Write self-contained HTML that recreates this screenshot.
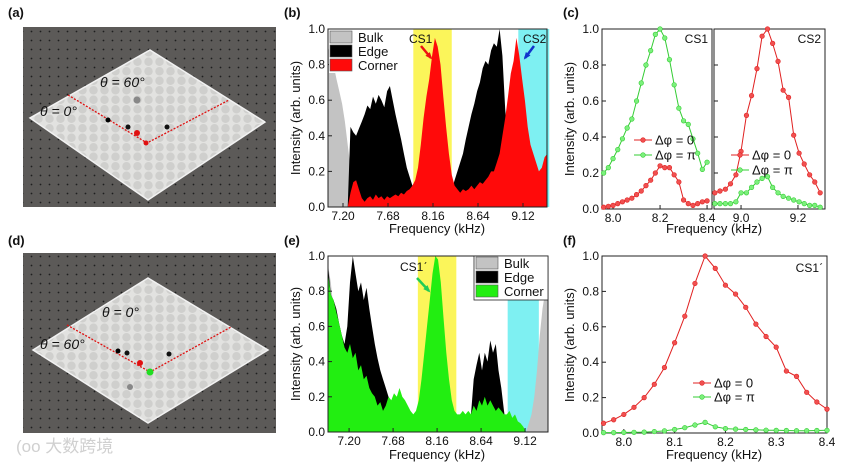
<!DOCTYPE html>
<html><head><meta charset="utf-8"><style>
html,body{margin:0;padding:0;background:#fff;}
svg{display:block;font-family:"Liberation Sans","Noto Sans CJK SC",sans-serif;}
</style></head><body>
<svg id="fig" width="864" height="463" viewBox="0 0 864 463" xmlns="http://www.w3.org/2000/svg">
<defs>
<pattern id="holes" width="9" height="9" patternUnits="userSpaceOnUse"><rect width="9" height="9" fill="#5c5a58"/><circle cx="4.5" cy="4.5" r="0.9" fill="#1e1e1e"/></pattern>
<pattern id="cells" width="11" height="9.5" patternUnits="userSpaceOnUse"><rect width="11" height="9.5" fill="#e2e2e0"/><circle cx="5.5" cy="4.75" r="4.2" fill="#cfcfcd"/></pattern>
<clipPath id="cpB"><rect x="328" y="29" width="219" height="178"/></clipPath>
<clipPath id="cpE"><rect x="328" y="256" width="220" height="176"/></clipPath>
</defs>
<g>
<rect x="23" y="27" width="253" height="180" fill="url(#holes)"/>
<polygon points="150,50 265,122 148,200 30,118" fill="url(#cells)" stroke="#f2f2f2" stroke-width="1.5"/>
<polyline points="68,95 147,143 229,100" fill="none" stroke="#e01010" stroke-width="1.3" stroke-dasharray="2,1.5"/>
<circle cx="137" cy="100" r="3.5" fill="#888"/><circle cx="108" cy="120" r="2.5" fill="#000"/>
<circle cx="128" cy="127" r="2.5" fill="#111"/><circle cx="167" cy="127" r="2.5" fill="#111"/>
<circle cx="137" cy="133" r="3" fill="#e01010"/><circle cx="146" cy="143" r="2.5" fill="#e01010"/>
<text x="100" y="87" font-size="14" font-style="italic" fill="#111">θ = 60°</text>
<text x="40" y="116" font-size="14" font-style="italic" fill="#111">θ = 0°</text>
</g>
<g>
<rect x="23" y="253" width="253" height="180" fill="url(#holes)"/>
<polygon points="148,278 268,350 148,423 33,350" fill="url(#cells)" stroke="#f2f2f2" stroke-width="1.5"/>
<polyline points="67,325 150,372 231,327" fill="none" stroke="#e01010" stroke-width="1.3" stroke-dasharray="2,1.5"/>
<circle cx="118" cy="351" r="2.5" fill="#000"/><circle cx="127" cy="353" r="2.5" fill="#111"/>
<circle cx="169" cy="354" r="2.5" fill="#111"/><circle cx="140" cy="363" r="3" fill="#e01010"/>
<circle cx="150" cy="372" r="3.5" fill="#22dd22"/><circle cx="130" cy="387" r="3" fill="#888"/>
<text x="102" y="317" font-size="14" font-style="italic" fill="#111">θ = 0°</text>
<text x="40" y="349" font-size="14" font-style="italic" fill="#111">θ = 60°</text>
</g>
<text x="16" y="452" font-size="17" fill="#d0d0d0">(oo 大数跨境</text>
<g font-size="13" font-weight="bold" fill="#111">
<text x="8" y="17">(a)</text>
<text x="284" y="17">(b)</text>
<text x="563" y="17">(c)</text>
<text x="8" y="245">(d)</text>
<text x="284" y="245">(e)</text>
<text x="563" y="245">(f)</text>
</g>
<g id="layer"></g>
</svg>
<script>
// ---- panel b data (freq = 7.04 + 0.03*i) ----
const bStart = 7.04, bStep = 0.03;
const bBulk = [0.9,0.85,0.8,0.72,0.65,0.58,0.48,0.35,0.22,0.1,0.03,0,0,0,0,0,0,0,0,0,0,0,0,0,0,0,0,0,0,0,0,0,0,0,0,0,0,0,0,0,0,0,0,0,0,0,0,0,0,0,0,0,0,0,0,0,0,0,0,0,0,0,0,0,0,0,0,0,0,0,0,0,0,0,0,0.03,0.08,0.15,0.22];
const bEdge = [0,0,0,0,0,0,0,0,0.45,0.42,0.4,0.44,0.48,0.52,0.57,0.55,0.62,0.58,0.63,0.6,0.56,0.65,0.68,0.6,0.52,0.45,0.38,0.3,0.22,0.17,0.12,0.1,0.08,0.08,0.08,0.08,0.08,0.08,0.08,0.08,0.08,0.08,0.08,0.08,0.1,0.15,0.2,0.25,0.3,0.38,0.45,0.52,0.58,0.65,0.7,0.78,0.82,0.8,0.88,0.92,0.9,1.0,0.85,0.55,0.35,0.25,0.2,0.15,0.1,0,0,0,0,0,0,0,0,0,0];
const bCorner = [0,0,0,0,0,0,0,0,0.08,0.14,0.15,0.1,0.05,0.03,0.05,0.06,0.04,0.07,0.05,0.06,0.04,0.06,0.05,0.06,0.07,0.06,0.08,0.07,0.09,0.1,0.12,0.15,0.22,0.35,0.5,0.62,0.72,0.85,0.95,0.9,0.8,0.62,0.45,0.3,0.18,0.12,0.1,0.08,0.1,0.09,0.1,0.12,0.1,0.12,0.14,0.13,0.15,0.17,0.2,0.2,0.25,0.3,0.4,0.5,0.62,0.75,0.82,0.95,0.85,0.72,0.6,0.45,0.35,0.3,0.25,0.2,0.22,0.28,0.3];
// ---- panel e data (freq = 6.97 + 0.03*i) ----
const eStart = 6.97, eStep = 0.03;
const eBulk = [0.95,0.85,0.7,0.55,0.4,0.28,0.18,0.1,0.04,0,0,0,0,0,0,0,0,0,0,0,0,0,0,0,0,0,0,0,0,0,0,0,0,0,0,0,0,0,0,0,0,0,0,0,0,0,0,0,0,0,0,0,0,0,0,0,0,0,0,0,0,0,0,0,0,0,0,0,0,0,0,0,0,0.05,0.1,0.2,0.35,0.55,0.7,0.8,0.85];
const eEdge = [0.95,0.78,0.75,0.7,0.62,0.55,0.5,0.6,0.85,1.0,0.9,0.8,0.85,0.75,0.82,0.7,0.6,0.5,0.42,0.35,0.3,0.25,0.2,0.15,0.13,0,0,0,0,0,0,0,0,0,0,0,0,0,0,0,0,0,0,0,0,0,0,0,0,0,0,0,0.1,0.3,0.38,0.45,0.35,0.45,0.4,0.52,0.45,0.5,0.35,0.25,0.12,0,0,0,0,0,0,0,0,0,0,0,0,0,0,0,0];
const eCorner = [0.9,0.78,0.75,0.68,0.62,0.55,0.48,0.45,0.5,0.42,0.45,0.35,0.38,0.3,0.32,0.25,0.22,0.2,0.15,0.17,0.12,0.15,0.2,0.18,0.22,0.2,0.25,0.2,0.18,0.15,0.12,0.1,0.12,0.18,0.3,0.45,0.6,0.75,0.9,1.0,0.98,0.85,0.65,0.45,0.3,0.18,0.12,0.1,0.1,0.12,0.1,0.12,0.1,0.15,0.12,0.18,0.15,0.2,0.15,0.18,0.15,0.12,0.14,0.12,0.1,0.1,0.12,0.08,0.1,0.06,0.05,0.03,0,0,0,0,0,0,0,0,0];
// ---- panel c data ----
const cs1Freq = [7.96,7.98,8.00,8.02,8.04,8.06,8.08,8.10,8.12,8.14,8.16,8.18,8.20,8.22,8.24,8.26,8.28,8.30,8.32,8.34,8.36,8.38,8.40];
const cs1Zero = [0.01,0.015,0.02,0.03,0.04,0.05,0.06,0.08,0.10,0.13,0.16,0.20,0.24,0.23,0.23,0.19,0.15,0.05,0.03,0.02,0.03,0.04,0.045];
const cs1Pi = [0.20,0.23,0.28,0.33,0.39,0.45,0.50,0.60,0.70,0.80,0.88,0.97,1.0,0.95,0.83,0.69,0.56,0.49,0.47,0.39,0.31,0.22,0.26];
const cs2Freq = [8.908,8.926,8.945,8.963,8.982,9.000,9.019,9.037,9.056,9.074,9.093,9.111,9.130,9.148,9.167,9.185,9.204,9.222,9.241,9.259,9.278];
const cs2Zero = [0.09,0.10,0.11,0.14,0.19,0.32,0.52,0.63,0.78,0.96,1.0,0.92,0.82,0.66,0.62,0.41,0.31,0.25,0.19,0.15,0.09];
const cs2Pi = [0.03,0.03,0.03,0.03,0.04,0.09,0.09,0.12,0.15,0.17,0.18,0.12,0.09,0.07,0.06,0.05,0.04,0.03,0.02,0.02,0.01];
// ---- panel f data ----
const fFreq = [7.96,7.98,8.00,8.02,8.04,8.06,8.08,8.10,8.12,8.14,8.16,8.18,8.20,8.22,8.24,8.26,8.28,8.30,8.32,8.34,8.36,8.38,8.40];
const fZero = [0.055,0.075,0.105,0.145,0.20,0.275,0.37,0.51,0.66,0.845,1.0,0.93,0.835,0.785,0.71,0.615,0.545,0.485,0.35,0.32,0.23,0.175,0.135];
const fPi = [0.002,0.002,0.003,0.004,0.005,0.008,0.012,0.02,0.03,0.045,0.06,0.035,0.025,0.022,0.02,0.018,0.016,0.015,0.014,0.013,0.013,0.014,0.015];
// ---- ticks ----
const specTicks = [7.20,7.68,8.16,8.64,9.12];
const yTicks = [0,0.2,0.4,0.6,0.8,1.0];
const cs1Ticks = [8.0,8.2,8.4];
const cs2Ticks = [9.0,9.2];
const fTicks = [8.0,8.1,8.2,8.3,8.4];

const NS = 'http://www.w3.org/2000/svg';
const layer = document.getElementById('layer');
function el(tag, attrs, parent) {
  const e = document.createElementNS(NS, tag);
  for (const k in attrs) e.setAttribute(k, attrs[k]);
  (parent || layer).appendChild(e);
  return e;
}
function scale(d0, d1, r0, r1) { return v => r0 + (v - d0) / (d1 - d0) * (r1 - r0); }

function area(vals, start, step, xs, ys, fill, clip, name) {
  let pts = [];
  pts.push(xs(start).toFixed(1) + ',' + ys(0).toFixed(1));
  vals.forEach((v, i) => pts.push(xs(start + step * i).toFixed(1) + ',' + ys(v).toFixed(1)));
  pts.push(xs(start + step * (vals.length - 1)).toFixed(1) + ',' + ys(0).toFixed(1));
  const p = el('polygon', {points: pts.join(' '), fill: fill, 'clip-path': 'url(#' + clip + ')'});
  
  
}
function series(freqs, vals, xs, ys, color, mfill, name) {
  const g = el('g', {});
  
  
  el('polyline', {points: freqs.map((f, i) => xs(f).toFixed(1) + ',' + ys(vals[i]).toFixed(1)).join(' '), fill: 'none', stroke: color, 'stroke-width': 1}, g);
  freqs.forEach((f, i) => {
    const c = el('circle', {cx: xs(f), cy: ys(vals[i]), r: 2.3, fill: mfill, stroke: color, 'stroke-width': 0.6}, g);
    
    
  });
}
function axes(x0, y0, w, h, xs, ys, xt, xfmt, ylabels, name) {
  const g = el('g', {});
  
  
  el('rect', {x: x0, y: y0, width: w, height: h, fill: 'none', stroke: '#222', 'stroke-width': 1}, g);
  xt.forEach(t => {
    const x = xs(t);
    el('line', {x1: x, y1: y0 + h, x2: x, y2: y0 + h - 4, stroke: '#222'}, g);
    const tx = el('text', {x: x, y: y0 + h + 13, 'font-size': 12, 'text-anchor': 'middle', fill: '#111'}, g);
    tx.textContent = xfmt(t);
    
    
  });
  yTicks.forEach(t => {
    const y = ys(t);
    el('line', {x1: x0, y1: y, x2: x0 + 4, y2: y, stroke: '#222'}, g);
    if (ylabels) {
      const tx = el('text', {x: x0 - 3, y: y + 4, 'font-size': 12, 'text-anchor': 'end', fill: '#111'}, g);
      tx.textContent = t.toFixed(1);
      
      
    }
  });
}
function txt(x, y, s, size, name, extra) {
  const t = el('text', Object.assign({x: x, y: y, 'font-size': size, fill: '#111'}, extra || {}));
  t.textContent = s;
  
  
  return t;
}
function legend(x, y, items, name) {
  const g = el('g', {});
  
  
  items.forEach((it, i) => {
    const yy = y + i * 14;
    el('rect', {x: x, y: yy, width: 22, height: 12, fill: it[1], stroke: '#555', 'stroke-width': 0.6}, g);
    const t = el('text', {x: x + 28, y: yy + 11, 'font-size': 13, fill: '#111'}, g);
    t.textContent = it[0];
    
    
  });
}
function lineLegend(x, y, color, mfill, label, name) {
  const g = el('g', {});
  
  
  el('line', {x1: x, y1: y, x2: x + 18, y2: y, stroke: color}, g);
  el('circle', {cx: x + 9, cy: y, r: 2.3, fill: mfill, stroke: color, 'stroke-width': 0.6}, g);
  const t = el('text', {x: x + 21, y: y + 4.5, 'font-size': 13, fill: '#111'}, g);
  t.textContent = label;
}
function arrow(x1, y1, x2, y2, color, name) {
  const g = el('g', {});
  
  
  el('line', {x1: x1, y1: y1, x2: x2, y2: y2, stroke: color, 'stroke-width': 2.5}, g);
  const a = Math.atan2(y2 - y1, x2 - x1), L = 6;
  const p = [[x2 + 2 * Math.cos(a), y2 + 2 * Math.sin(a)], [x2 - L * Math.cos(a - 0.5), y2 - L * Math.sin(a - 0.5)], [x2 - L * Math.cos(a + 0.5), y2 - L * Math.sin(a + 0.5)]];
  el('polygon', {points: p.map(q => q.join(',')).join(' '), fill: color}, g);
}

// ---------- Panel b ----------
const bx = scale(7.04, 9.376, 328, 547), by = scale(0, 1, 207, 29);
el('rect', {x: bx(7.95), y: 29, width: bx(8.36) - bx(7.95), height: 178, fill: '#fbf55a'});
el('rect', {x: bx(9.07), y: 29, width: bx(9.40) - bx(9.07), height: 178, fill: '#7ef0f2'});
area(bBulk, bStart, bStep, bx, by, '#c3c3c3', 'cpB', 'b-bulk-area');
area(bEdge, bStart, bStep, bx, by, '#000', 'cpB', 'b-edge-area');
area(bCorner, bStart, bStep, bx, by, '#ff0a0a', 'cpB', 'b-corner-area');
axes(328, 29, 219, 178, bx, by, specTicks, t => t.toFixed(2), true, 'b-axes');
el('rect', {x: 329, y: 30, width: 70, height: 43, fill: '#fff'});
legend(330, 31, [['Bulk', '#c3c3c3'], ['Edge', '#000'], ['Corner', '#ff0a0a']], 'b-legend');
txt(409, 43, 'CS1', 12, 'cs1-annotation');
arrow(421, 46, 431, 58, '#ee1111', 'cs1-arrow');
txt(523, 43, 'CS2', 12, 'cs2-annotation');
arrow(534, 46, 525, 58, '#1133cc', 'cs2-arrow');
txt(437, 233, 'Frequency (kHz)', 13, 'b-x-axis-title', {'text-anchor': 'middle'});
txt(300, 118, 'Intensity (arb. units)', 13, 'b-y-axis-title', {'text-anchor': 'middle', transform: 'rotate(-90 300 118)'});

// ---------- Panel e ----------
const ex = scale(6.97, 9.37, 328, 548), ey = scale(0, 1, 432, 256);
el('rect', {x: ex(7.95), y: 256, width: ex(8.37) - ex(7.95), height: 176, fill: '#fbf55a'});
el('rect', {x: ex(8.93), y: 256, width: ex(9.27) - ex(8.93), height: 176, fill: '#7ef0f2'});
area(eBulk, eStart, eStep, ex, ey, '#c3c3c3', 'cpE', 'e-bulk-area');
area(eEdge, eStart, eStep, ex, ey, '#000', 'cpE', 'e-edge-area');
area(eCorner, eStart, eStep, ex, ey, '#22ee11', 'cpE', 'e-corner-area');
axes(328, 256, 220, 176, ex, ey, specTicks, t => t.toFixed(2), true, 'e-axes');
el('rect', {x: 474, y: 256, width: 74, height: 44, fill: '#fff', stroke: '#222', 'stroke-width': 0.8});
legend(476, 257, [['Bulk', '#c3c3c3'], ['Edge', '#000'], ['Corner', '#22ee11']], 'e-legend');
txt(400, 271, 'CS1\u02CA', 12, 'cs1-prime-annotation');
arrow(417, 278, 429, 291, '#22cc55', 'cs1-prime-arrow');
txt(437, 459, 'Frequency (kHz)', 13, 'e-x-axis-title', {'text-anchor': 'middle'});
txt(300, 344, 'Intensity (arb. units)', 13, 'e-y-axis-title', {'text-anchor': 'middle', transform: 'rotate(-90 300 344)'});

// ---------- Panel c ----------
const cLx = scale(7.953, 8.421, 602, 712), cy = scale(0, 1, 209, 29);
const cRx = scale(8.905, 9.295, 714, 825);
axes(602, 29, 110, 180, cLx, cy, cs1Ticks, t => t.toFixed(1), true, 'c-left-axes');
axes(714, 29, 111, 180, cRx, cy, cs2Ticks, t => t.toFixed(1), false, 'c-right-axes');
series(cs1Freq, cs1Pi, cLx, cy, '#33cc33', '#7cf07c', 'cs1-dphi-pi-series');
series(cs1Freq, cs1Zero, cLx, cy, '#e02020', '#f05050', 'cs1-dphi-0-series');
series(cs2Freq, cs2Zero, cRx, cy, '#e02020', '#f05050', 'cs2-dphi-0-series');
series(cs2Freq, cs2Pi, cRx, cy, '#33cc33', '#7cf07c', 'cs2-dphi-pi-series');
txt(708, 43, 'CS1', 12, 'cs1-title', {'text-anchor': 'end'});
txt(821, 43, 'CS2', 12, 'cs2-title', {'text-anchor': 'end'});
lineLegend(634, 140, '#e02020', '#f05050', 'Δφ = 0', 'c-left-legend-0');
lineLegend(634, 155, '#33cc33', '#7cf07c', 'Δφ = π', 'c-left-legend-pi');
lineLegend(731, 155, '#e02020', '#f05050', 'Δφ = 0', 'c-right-legend-0');
lineLegend(731, 170, '#33cc33', '#7cf07c', 'Δφ = π', 'c-right-legend-pi');
txt(714, 233, 'Frequency (kHz)', 13, 'c-x-axis-title', {'text-anchor': 'middle'});
txt(574, 119, 'Intensity (arb. units)', 13, 'c-y-axis-title', {'text-anchor': 'middle', transform: 'rotate(-90 574 119)'});

// ---------- Panel f ----------
const fx = scale(7.957, 8.4, 602, 827), fy = scale(0, 1, 433, 256);
axes(602, 256, 225, 177, fx, fy, fTicks, t => t.toFixed(1), true, 'f-axes');
series(fFreq, fPi, fx, fy, '#33cc33', '#7cf07c', 'f-dphi-pi-series');
series(fFreq, fZero, fx, fy, '#e02020', '#f05050', 'f-dphi-0-series');
txt(823, 272, 'CS1\u02CA', 12, 'f-title', {'text-anchor': 'end'});
lineLegend(693, 383, '#e02020', '#f05050', 'Δφ = 0', 'f-legend-0');
lineLegend(693, 397, '#33cc33', '#7cf07c', 'Δφ = π', 'f-legend-pi');
txt(714, 459, 'Frequency (kHz)', 13, 'f-x-axis-title', {'text-anchor': 'middle'});
txt(574, 345, 'Intensity (arb. units)', 13, 'f-y-axis-title', {'text-anchor': 'middle', transform: 'rotate(-90 574 345)'});
</script>
</body></html>
